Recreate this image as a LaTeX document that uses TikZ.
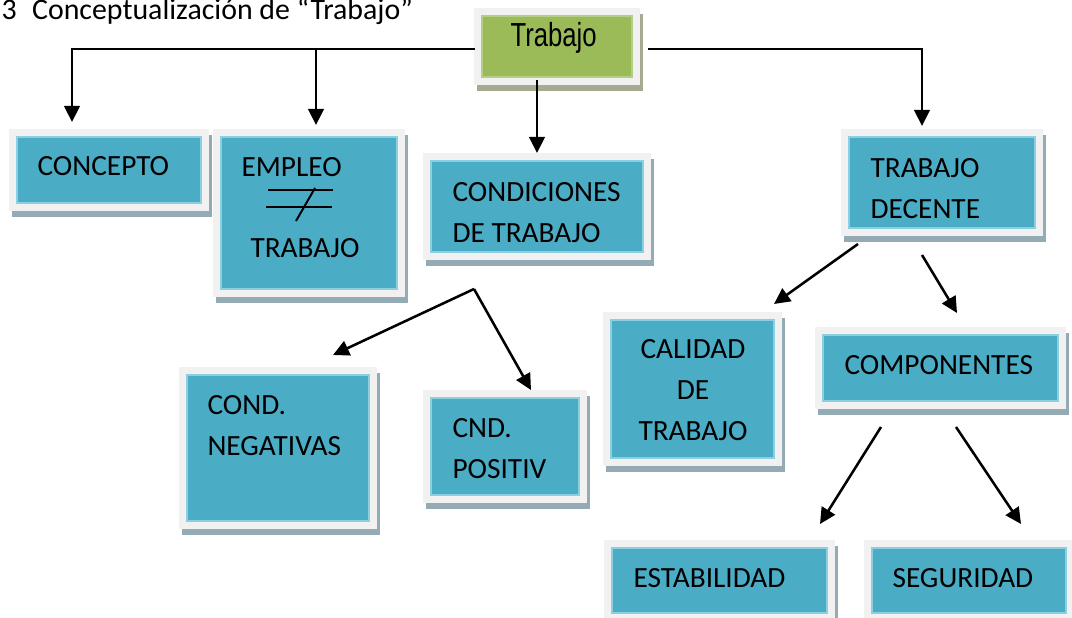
\documentclass[tikz,border=0pt]{standalone}
\usepackage{fontspec}
\setmainfont{Carlito}
\newfontfamily\narrowfont[FakeStretch=0.77]{Liberation Sans}
\usetikzlibrary{arrows.meta}
\definecolor{boxteal}{HTML}{4BACC6}
\definecolor{tealedge}{HTML}{8CCFE0}
\definecolor{tealshadow}{HTML}{94ABB5}
\definecolor{boxgreen}{HTML}{9BBB59}
\definecolor{greenedge}{HTML}{B5CE85}
\definecolor{greenshadow}{HTML}{A7AA91}
\definecolor{framegray}{HTML}{F1F1F1}

\begin{document}
\begin{tikzpicture}[x=0.375pt, y=-0.375pt,
    boxsize/.style 2 args={anchor=north west, inner sep=0pt, outer sep=0pt,
        minimum width=#1*0.375pt, minimum height=#2*0.375pt, line width=0.4pt},
    framed/.style={preaction={fill=#1, draw=#1, line width=6pt,
        transform canvas={shift={(1.3pt,-2.4pt)}}},
        preaction={draw=framegray, line width=6pt}},
    cbox/.style 2 args={boxsize={#1}{#2}, fill=boxteal, draw=tealedge, framed=tealshadow},
    gbox/.style 2 args={boxsize={#1}{#2}, fill=boxgreen, draw=greenedge, framed=greenshadow},
    txt/.style={anchor=north west, inner sep=0pt, align=left,
        font=\fontsize{11}{15.4}\selectfont},
    arr/.style={line width=0.95pt, -{Triangle[length=6pt,width=5.8pt]}}]
    \useasboundingbox (0,0) rectangle (1072,618);

    \node[anchor=base west, inner sep=0pt, font=\fontsize{11.2}{13}\selectfont] (titulo)
        at (1,19.5) {3\hspace{5.8pt}Conceptualización de “Trabajo”};

    \node[gbox={150}{61}] (trabajo) at (482,16) {};
    \node[anchor=base west, inner sep=0pt, font=\narrowfont\fontsize{12.5}{14}\selectfont]
        (trabajo-t) at (510,47) {Trabajo};

    \node[cbox={184}{66}] (concepto) at (17,137) {};
    \node[cbox={176}{152}] (empleo) at (221,137) {};
    \node[cbox={212}{91}] (condiciones) at (431,161) {};
    \node[cbox={186}{91}] (decente) at (849,137) {};
    \node[cbox={182}{146}] (negativas) at (187,375) {};
    \node[cbox={148}{97}] (positiv) at (431,398) {};
    \node[cbox={163}{138}] (calidad) at (611,320) {};
    \node[cbox={235}{66}] (componentes) at (823,335) {};
    \node[cbox={215}{65}] (estabilidad) at (612,548) {};
    \node[cbox={194}{65}] (seguridad) at (872,548) {};

    \node[txt] (concepto-t) at (37,156) {CONCEPTO};
    \node[txt] (empleo-t) at (241,157) {EMPLEO};
    \node[txt] (empleo-b) at (250,238) {TRABAJO};
    \node[txt] (condiciones-t) at (452,182) {CONDICIONES\\DE TRABAJO};
    \node[txt] (decente-t) at (870,158) {TRABAJO\\DECENTE};
    \node[txt] (negativas-t) at (207,395) {COND.\\NEGATIVAS};
    \node[txt] (positiv-t) at (452,418) {CND.\\POSITIV};
    \node[txt, anchor=north, align=center] (calidad-t) at (693,339) {CALIDAD\\DE\\TRABAJO};
    \node[txt] (componentes-t) at (844,355) {COMPONENTES};
    \node[txt] (estabilidad-t) at (633,568) {ESTABILIDAD};
    \node[txt] (seguridad-t) at (892,568) {SEGURIDAD};

    \draw[line width=0.75pt] (268,190) -- (333,190);
    \draw[line width=0.75pt] (266,207) -- (332,207);
    \draw[line width=0.75pt] (296,221) -- (315,188);

    \draw[arr] ([shift={(-7,2.5)}]trabajo.west) -| ([shift={(55,-15)}]concepto.north west);
    \draw[arr] ([shift={(-7,2.5)}]trabajo.west) -| ([shift={(95,-12)}]empleo.north west);
    \draw[arr] ([shift={(-20,3)}]trabajo.south) -- ([shift={(106,-8)}]condiciones.north west);
    \draw[arr] ([shift={(16,2.5)}]trabajo.east) -| ([shift={(73,-11)}]decente.north west);

    \coordinate (condapex) at ([shift={(43,37)}]condiciones.south west);
    \draw[arr] (condapex) -- ([shift={(146,-20)}]negativas.north west);
    \draw[arr] (condapex) -- ([shift={(100,-8)}]positiv.north west);

    \draw[arr] ([shift={(9,16)}]decente.south west) -- ([shift={(0,-16)}]calidad.north east);
    \draw[arr] ([shift={(73,27)}]decente.south west) -- ([shift={(134,-22)}]componentes.north west);

    \draw[arr] ([shift={(58,26)}]componentes.south west) -- ([shift={(208,-24)}]estabilidad.north west);
    \draw[arr] ([shift={(133,26)}]componentes.south west) -- ([shift={(149,-24)}]seguridad.north west);
\end{tikzpicture}
\end{document}
